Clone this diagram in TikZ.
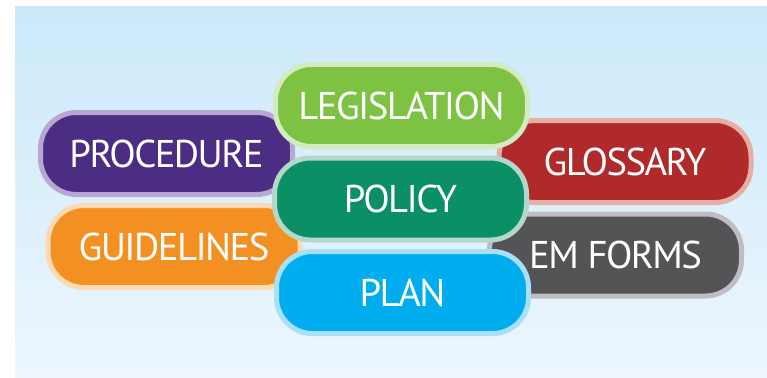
\documentclass[tikz,border=0pt]{standalone}
\usepackage{fontspec}
\setmainfont{PT Sans}
\newfontfamily\pillfont[LetterSpace=-4]{PT Sans}
\usepackage{tikz}
\usetikzlibrary{shapes,arrows}
\definecolor{bgtop}{HTML}{CBE9FA}
\definecolor{bgbot}{HTML}{EDF6FD}
\definecolor{legfill}{HTML}{7DC242}
\definecolor{legline}{HTML}{D3EBC1}
\definecolor{profill}{HTML}{4B2D84}
\definecolor{proline}{HTML}{B8A7D2}
\definecolor{polfill}{HTML}{0B8F67}
\definecolor{polline}{HTML}{B4D7CA}
\definecolor{glofill}{HTML}{B12A2B}
\definecolor{gloline}{HTML}{E5AFA5}
\definecolor{guifill}{HTML}{F39022}
\definecolor{guiline}{HTML}{FBDAB5}
\definecolor{emffill}{HTML}{545457}
\definecolor{emfline}{HTML}{BEBEC2}
\definecolor{plafill}{HTML}{00AEEF}
\definecolor{plaline}{HTML}{A7E0F8}
\tikzset{
	pill/.style 2 args = {draw=#2, fill=#1, line width=3.75pt,
		rectangle, rounded corners=27pt,
		minimum width = 189pt,
		minimum height = 61.5pt,
		inner sep=0pt, text=white,
		font=\pillfont\fontsize{29}{31}\selectfont},
}

\begin{document}
\begin{tikzpicture}[ x=0.75pt,                  %<--one unit is one pixel
					y=-0.75pt ]               %<--y runs downwards like the picture

	\useasboundingbox (0,0) rectangle (767,378);
	\shade[top color=bgtop, bottom color=bgbot] (15,7) rectangle (767,378);

	\draw%-----------------------------------------------------------------------------------------
	%Drawing the outer pills:
	node(procedure) at (166.5,153.5) [pill={profill}{proline}] {PROCEDURE}
	node(glossary) at (625,161.5) [pill={glofill}{gloline}] {GLOSSARY}
	node(guidelines) at (174,246.5) [pill={guifill}{guiline}] {GUIDELINES}
	node(emforms) at (615.5,255) [pill={emffill}{emfline}] {EM FORMS}
	%Drawing the middle column on top:
	node(legislation) at (401.5,105.5) [pill={legfill}{legline}] {LEGISLATION}
	node(policy) at (400.5,199) [pill={polfill}{polline}] {POLICY}
	node(plan) at (402.5,292.5) [pill={plafill}{plaline}] {PLAN}
	;%---------------------------------------------------------------------------------------------

\end{tikzpicture}
\end{document}
